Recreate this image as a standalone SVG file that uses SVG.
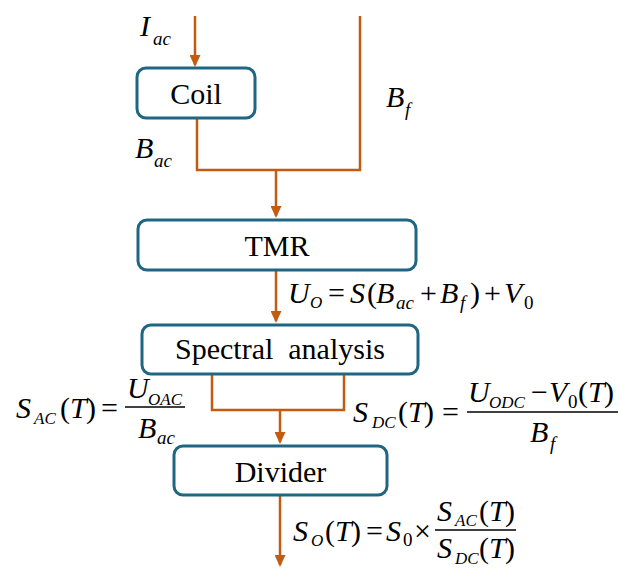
<svg xmlns="http://www.w3.org/2000/svg" width="620" height="570" viewBox="0 0 620 570">
<defs>
<style>
.box{fill:#ffffff;stroke:#1e6682;stroke-width:3}
.lbl{font-size:30px;fill:#000;text-anchor:middle}
.conn{fill:none;stroke:#c55a11;stroke-width:2.5}
.m{font-size:30px;fill:#000}
.i{font-style:italic}
.s{font-size:19px}
.t{font-size:17px}
.bar{stroke:#000;stroke-width:1.5}
</style>
<marker id="ah" viewBox="0 0 12 11" refX="10" refY="5.5" markerWidth="12" markerHeight="11" markerUnits="userSpaceOnUse" orient="auto">
<path d="M0,0 L12,5.5 L0,11 z" fill="#c55a11"/>
</marker>
</defs>
<rect width="620" height="570" fill="#ffffff"/>

<g id="connectors">
<path class="conn" d="M195,16 V65" marker-end="url(#ah)"/>
<path class="conn" d="M197,118 V170 H360 V16"/>
<path class="conn" d="M276,170 V216" marker-end="url(#ah)"/>
<path class="conn" d="M276,270 V321" marker-end="url(#ah)"/>
<path class="conn" d="M212,374 V410 H344 V374"/>
<path class="conn" d="M280,410 V442" marker-end="url(#ah)"/>
<path class="conn" d="M280,495 V565" marker-end="url(#ah)"/>
</g>

<g font-family="Liberation Serif, serif">
<g id="coil">
<rect class="box" x="137" y="68" width="118" height="50" rx="9"/>
<text class="lbl" x="196" y="104">Coil</text>
</g>
<g id="tmr">
<rect class="box" x="138" y="220" width="278" height="50" rx="9"/>
<text class="lbl" x="277" y="256">TMR</text>
</g>
<g id="spectral">
<rect class="box" x="142" y="325" width="276" height="49" rx="9"/>
<text class="lbl" x="280" y="359" xml:space="preserve">Spectral  analysis</text>
</g>
<g id="divider">
<rect class="box" x="174" y="446" width="213" height="49" rx="9"/>
<text class="lbl" x="280.5" y="482">Divider</text>
</g>

<g id="labels">
<text class="m"><tspan class="i" x="140" y="36">I</tspan><tspan class="i s" x="153" y="45">ac</tspan></text>
<text class="m"><tspan class="i" x="135" y="158">B</tspan><tspan class="i s" x="154" y="167">ac</tspan></text>
<text class="m"><tspan class="i" x="386" y="107">B</tspan><tspan class="i s" x="405" y="116">f</tspan></text>

<text class="m"><tspan class="i" x="288" y="303">U</tspan><tspan class="i t" x="310" y="308">O</tspan><tspan x="328" y="303">=</tspan><tspan class="i" x="350" y="303">S</tspan><tspan x="367" y="303">(</tspan><tspan class="i" x="376" y="303">B</tspan><tspan class="i s" x="396" y="309">ac</tspan><tspan x="420" y="303">+</tspan><tspan class="i" x="440" y="303">B</tspan><tspan class="i s" x="460" y="309">f</tspan><tspan x="470" y="303">)</tspan><tspan x="484" y="303">+</tspan><tspan class="i" x="504" y="303">V</tspan><tspan class="s" x="524" y="309">0</tspan></text>

<text class="m"><tspan class="i" x="16" y="418">S</tspan><tspan class="i t" x="34" y="424">AC</tspan><tspan x="60" y="418">(</tspan><tspan class="i" x="70" y="418">T</tspan><tspan x="86" y="418">)</tspan><tspan x="101" y="418">=</tspan></text>
<line class="bar" x1="125" y1="407" x2="185" y2="407"/>
<text class="m"><tspan class="i" x="127" y="398">U</tspan><tspan class="i t" x="148" y="405">OAC</tspan></text>
<text class="m"><tspan class="i" x="138" y="438">B</tspan><tspan class="i s" x="157" y="444">ac</tspan></text>

<text class="m"><tspan class="i" x="353" y="422">S</tspan><tspan class="i t" x="372" y="428">DC</tspan><tspan x="398" y="422">(</tspan><tspan class="i" x="408" y="422">T</tspan><tspan x="424" y="422">)</tspan><tspan x="442" y="422">=</tspan></text>
<line class="bar" x1="467" y1="412" x2="618" y2="412"/>
<text class="m"><tspan class="i" x="468" y="402">U</tspan><tspan class="i t" x="489" y="408">ODC</tspan><tspan x="531" y="402">−</tspan><tspan class="i" x="549" y="402">V</tspan><tspan class="s" x="568" y="408">0</tspan><tspan x="578" y="402">(</tspan><tspan class="i" x="588" y="402">T</tspan><tspan x="604" y="402">)</tspan></text>
<text class="m"><tspan class="i" x="530" y="442">B</tspan><tspan class="i s" x="550" y="450">f</tspan></text>

<text class="m"><tspan class="i" x="293" y="541">S</tspan><tspan class="i t" x="311" y="546">O</tspan><tspan x="325" y="541">(</tspan><tspan class="i" x="335" y="541">T</tspan><tspan x="351" y="541">)</tspan><tspan x="366" y="541">=</tspan><tspan class="i" x="386" y="541">S</tspan><tspan class="s" x="403" y="546">0</tspan><tspan x="414" y="541">×</tspan></text>
<line class="bar" x1="435" y1="530" x2="516" y2="530"/>
<text class="m"><tspan class="i" x="437" y="521">S</tspan><tspan class="i t" x="455" y="526">AC</tspan><tspan x="479" y="521">(</tspan><tspan class="i" x="489" y="521">T</tspan><tspan x="505" y="521">)</tspan></text>
<text class="m"><tspan class="i" x="437" y="558">S</tspan><tspan class="i t" x="455" y="564">DC</tspan><tspan x="479" y="558">(</tspan><tspan class="i" x="489" y="558">T</tspan><tspan x="505" y="558">)</tspan></text>
</g>
</g>
</svg>
